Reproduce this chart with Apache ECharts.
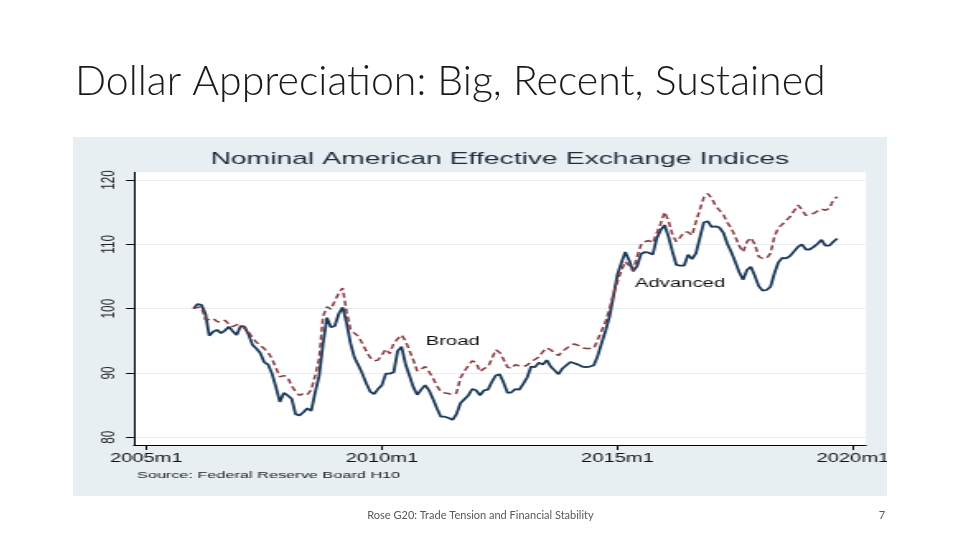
<!DOCTYPE html>
<html><head><meta charset="utf-8">
<script src="https://cdn.jsdelivr.net/npm/echarts@6/dist/echarts.min.js"></script>
<style>
html,body{margin:0;padding:0;background:#fff;width:960px;height:540px;overflow:hidden;}
#slide{position:absolute;left:0;top:0;width:960px;height:540px;}
#panel{position:absolute;left:73px;top:137px;width:494px;height:359px;transform-origin:0 0;transform:scaleX(1.6478);}
</style></head><body>
<div id="slide"></div><div id="panel"></div>
<script>
// monthly data, 2006m1 .. 2019m9 (index 2006m1 = 100)
const startYear = 2006;
const broad = [
100.0,100.2,100.3,98.3,98.3,98.5,98.0,97.9,98.2,97.6,97.2,97.5,
97.6,96.9,96.4,95.5,94.8,94.3,93.8,93.2,92.2,90.8,89.4,89.6,
89.3,88.0,87.1,86.5,86.8,86.6,87.4,89.6,92.2,98.8,100.3,99.9,
101.2,102.4,103.2,99.5,96.8,96.2,95.7,94.6,93.4,92.4,91.9,92.0,
92.8,93.7,93.0,94.6,95.3,95.9,95.0,93.5,92.0,90.3,90.6,91.0,
90.2,89.2,88.0,87.1,86.9,86.8,86.6,86.9,89.2,90.3,91.1,91.9,
91.6,90.2,90.7,90.9,92.2,93.6,93.2,92.1,90.9,90.7,91.3,91.1,
91.0,91.2,91.8,92.1,92.5,93.3,93.9,93.6,93.1,92.7,93.4,93.8,
94.3,94.5,94.3,93.9,93.8,93.8,93.8,95.2,96.6,98.0,100.0,102.3,
104.2,105.9,107.3,106.7,105.9,108.1,109.9,110.4,110.6,110.2,111.7,113.2,
115.0,113.7,111.5,110.4,111.1,111.9,111.9,111.4,113.5,115.4,117.3,117.9,
117.2,116.0,115.3,114.6,113.4,112.5,111.2,109.8,108.8,110.4,111.0,110.0,
108.1,107.8,107.8,108.6,111.2,112.6,113.1,113.7,114.3,115.2,116.1,115.4,
114.5,114.6,114.8,115.2,115.5,115.3,115.6,116.9,117.4
];
const advanced = [
100.0,100.7,100.6,99.3,95.8,96.4,96.7,96.2,96.6,97.2,96.5,95.9,
97.3,97.2,96.0,94.4,93.8,93.1,91.7,91.3,89.9,87.8,85.5,86.9,
86.5,86.0,83.6,83.4,83.9,84.5,84.1,87.0,89.5,94.5,98.6,97.1,
97.3,99.2,100.2,97.8,94.6,92.4,91.2,89.9,88.4,87.1,86.7,87.5,
88.1,89.9,89.9,90.1,93.4,94.1,91.4,89.6,87.8,86.6,87.4,88.1,
87.3,86.0,84.5,83.2,83.2,83.0,82.7,83.6,85.3,85.9,86.5,87.5,
87.3,86.5,87.3,87.4,88.6,89.6,89.8,88.5,86.9,87.0,87.5,87.4,
88.3,89.3,91.0,90.9,91.6,91.3,92.0,91.0,90.4,89.8,90.7,91.2,
91.7,91.5,91.3,91.0,90.9,91.0,91.2,92.7,94.7,96.6,98.8,102.0,
105.3,107.1,108.8,107.5,105.8,106.6,108.5,108.8,108.7,108.4,110.9,112.2,
113.0,111.2,108.9,106.8,106.7,106.7,108.4,107.7,108.6,111.0,113.4,113.6,
112.7,112.8,112.6,111.8,110.1,108.8,107.3,105.7,104.5,106.0,106.5,105.1,
103.5,102.8,102.9,103.4,105.5,107.2,107.9,107.8,108.2,108.9,109.6,110.0,
109.2,109.2,109.6,110.1,110.7,109.8,109.8,110.4,110.9
];
const xTicks = [2005, 2010, 2015, 2020];
const yTicks = [80, 90, 100, 110, 120];
const seriesNames = ['Broad', 'Advanced'];
const labelBroad = [2011.505, 94.81];
const labelAdvanced = [2016.33, 103.89];

const toPairs = arr => arr.map((v, i) => [startYear + i / 12, v]);

// ---- slide (title + footer) ----
const slide = echarts.init(document.getElementById('slide'), null, {renderer: 'canvas'});
slide.setOption({
  animation: false,
  backgroundColor: '#ffffff',
  graphic: [
    {type: 'text', left: 75, top: 61, style: {text: 'Dollar Appreciation: Big, Recent, Sustained', font: '300 41px Lato', fill: '#1a1a1a'}},
    {type: 'text', x: 480.5, y: 515, style: {text: 'Rose G20: Trade Tension and Financial Stability', font: '11px Lato', fill: '#595959', align: 'center', verticalAlign: 'middle'}},
    {type: 'text', x: 882, y: 515, style: {text: '7', font: '11px Lato', fill: '#595959', align: 'center', verticalAlign: 'middle'}}
  ]
});

// ---- chart panel (drawn at Stata aspect and stretched horizontally) ----
const panel = echarts.init(document.getElementById('panel'), null, {renderer: 'canvas'});
const FONT = 'Liberation Sans';
panel.setOption({
  animation: false,
  backgroundColor: '#e8eff2',
  graphic: [
    {type: 'text', x: 259, y: 22, style: {text: 'Nominal American Effective Exchange Indices', font: '17.2px "Liberation Sans"', fill: '#1e2c3c', align: 'center', verticalAlign: 'middle'}},
    {type: 'text', x: 38.8, y: 338, style: {text: 'Source: Federal Reserve Board H10', font: '9.9px "Liberation Sans"', fill: '#1a1a1a', align: 'left', verticalAlign: 'middle'}}
  ],
  grid: {left: 36.9, right: 12.8, top: 35.3, bottom: 51, show: true, backgroundColor: '#ffffff', borderWidth: 0, outerBoundsMode: 'none', containLabel: false},
  xAxis: {
    type: 'value', min: 2004.733, max: 2020.276,
    axisLine: {show: true, lineStyle: {color: '#000', width: 1}},
    axisTick: {show: true, length: 5, customValues: xTicks, lineStyle: {color: '#000'}},
    axisLabel: {customValues: xTicks, formatter: v => Math.round(v) + 'm1', fontFamily: FONT, fontSize: 12.2, color: '#111', margin: 8, hideOverlap: false},
    splitLine: {show: false}
  },
  yAxis: {
    type: 'value', min: 78.8, max: 121.2,
    axisLine: {show: true, lineStyle: {color: '#000', width: 1}},
    axisTick: {show: true, length: 4.7, customValues: yTicks, lineStyle: {color: '#000'}},
    axisLabel: {customValues: yTicks, rotate: 90, fontFamily: FONT, fontSize: 11.8, color: '#222', margin: 9},
    splitLine: {show: true, lineStyle: {color: '#e6eef1', width: 1}}
  },
  series: [
    {
      name: seriesNames[0], type: 'line', data: toPairs(broad), showSymbol: false,
      lineStyle: {color: '#8b3a40', width: 1.5, type: [5, 3]},
      z: 3,
      markPoint: {symbol: 'rect', symbolSize: 1, itemStyle: {color: 'rgba(0,0,0,0)'},
        label: {show: true, position: 'inside', formatter: '{b}', color: '#111', fontFamily: FONT, fontSize: 12.3},
        data: [{name: seriesNames[0], coord: labelBroad}]}
    },
    {
      name: seriesNames[1], type: 'line', data: toPairs(advanced), showSymbol: false,
      lineStyle: {color: '#1b3a5a', width: 1.8},
      z: 2,
      markPoint: {symbol: 'rect', symbolSize: 1, itemStyle: {color: 'rgba(0,0,0,0)'},
        label: {show: true, position: 'inside', formatter: '{b}', color: '#111', fontFamily: FONT, fontSize: 12.3},
        data: [{name: seriesNames[1], coord: labelAdvanced}]}
    }
  ]
});
</script>
</body></html>
